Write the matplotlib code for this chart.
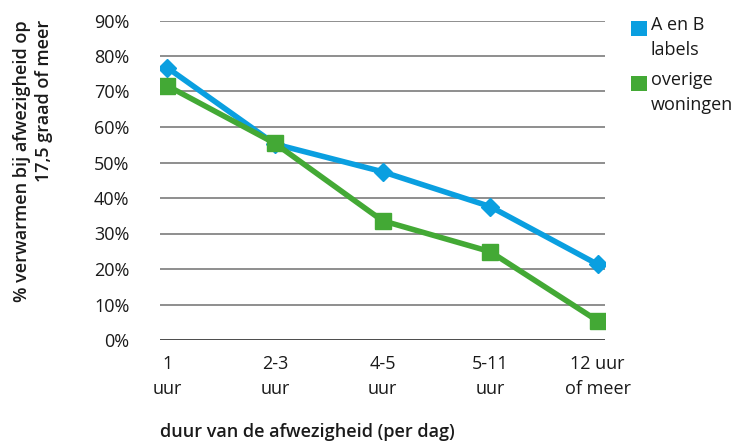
import matplotlib
matplotlib.use("Agg")
import matplotlib.pyplot as plt
from matplotlib.patches import Rectangle

categories = ["1\nuur", "2-3\nuur", "4-5\nuur", "5-11\nuur", "12 uur\nof meer"]
series_names = ["A en B\nlabels", "overige\nwoningen"]
ab_labels = [76.7, 55.2, 47.4, 37.6, 21.3]
overige = [71.6, 55.4, 33.6, 24.9, 5.4]
yticks = [0, 10, 20, 30, 40, 50, 60, 70, 80, 90]
ytick_labels = [f"{v}%" for v in yticks]

blue = "#0A9FE0"
green = "#43A935"
txt = "#1a1a1a"
font = "Open Sans"

plt.rcParams["font.family"] = [font, "DejaVu Sans"]

W, H = 736, 441
fig = plt.figure(figsize=(W/100, H/100), dpi=100)
ax = fig.add_axes([160/W, 1-340/H, 445/W, (340-20.5)/H])

x = list(range(len(categories)))
ax.plot(x, ab_labels, color=blue, lw=4, marker="D", markersize=9.5, zorder=3)
ax.plot(x, overige, color=green, lw=4, marker="s", markersize=11, zorder=4)

ax.set_xlim(-0.068, 4.068)
ax.set_ylim(0, 90)
ax.set_yticks(yticks)
ax.set_yticklabels(ytick_labels)
for v in yticks:
    ax.axhline(v, color="#1a1a1a" if v == 0 else "#707070", lw=1.1, zorder=1)
for s in ax.spines.values():
    s.set_visible(False)
ax.tick_params(axis="y", length=0, pad=22, labelsize=13, labelcolor=txt)
ax.set_xticks(x)
ax.set_xticklabels(categories, linespacing=1.5)
ax.tick_params(axis="x", length=0, pad=11, labelsize=13, labelcolor=txt)

fig.text(33/W, 1-20/H, "% verwarmen bij afwezigheid op\n17,5 graad of meer",
         rotation=90, ha="center", va="top", multialignment="right",
         fontsize=13, fontweight="semibold", color=txt, linespacing=1.25)
fig.text(160/W, 1-432/H, "duur van de afwezigheid (per dag)",
         ha="left", va="center", fontsize=13, fontweight="semibold", color=txt)

# legend
leg_colors = [blue, green]
leg_tops = [21, 76]
for name, col, top in zip(series_names, leg_colors, leg_tops):
    fig.patches.append(Rectangle((631/W, 1-(top+15)/H), 16/W, 15/H,
                                 transform=fig.transFigure, color=col, lw=0))
    fig.text(651/W, 1-(top-5)/H, name, ha="left", va="top", fontsize=13,
             color=txt, linespacing=1.5)

fig.savefig("out.png", dpi=100)
